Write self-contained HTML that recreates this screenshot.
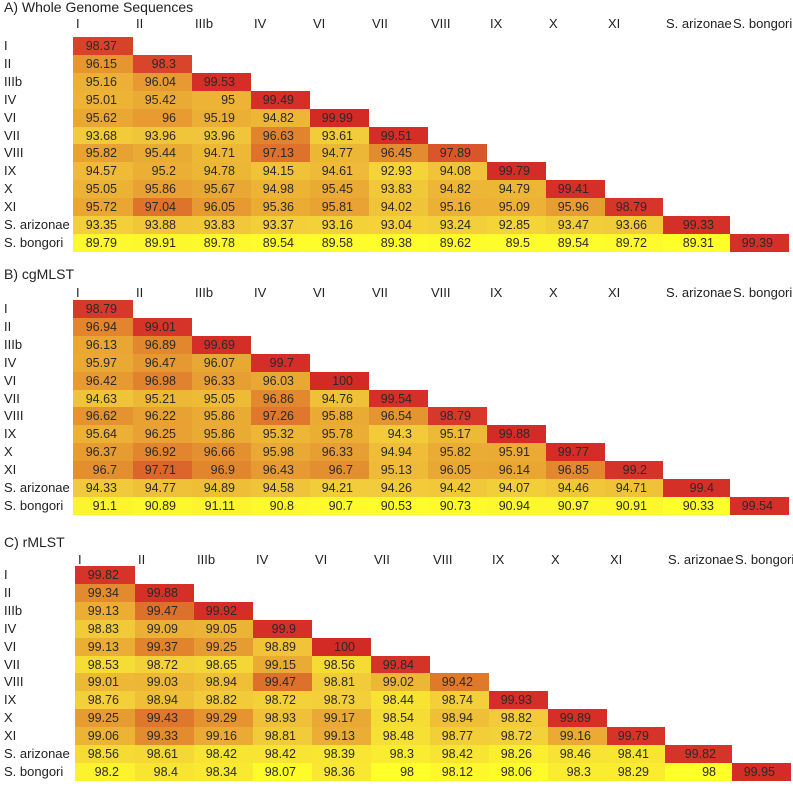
<!DOCTYPE html>
<html><head><meta charset="utf-8">
<style>
body{margin:0;background:#fff;width:793px;height:787px;overflow:hidden;font-family:"Liberation Sans",sans-serif;}
#root{position:relative;width:793px;height:787px;}
.t{position:absolute;font-size:13px;color:#222;white-space:nowrap;line-height:14px;}
.tt{font-size:14px;}
.c{position:absolute;font-size:12.5px;color:#2a2a2a;text-align:right;box-sizing:border-box;padding-right:16px;line-height:18px;}
</style></head><body>
<div id="root"></div>
<script>
const labels=["I","II","IIIb","IV","VI","VII","VIII","IX","X","XI","S. arizonae","S. bongori"];
const panelTitles=["A) Whole Genome Sequences","B) cgMLST","C) rMLST"];
const wgsValues=[
[98.37],
[96.15,98.3],
[95.16,96.04,99.53],
[95.01,95.42,95,99.49],
[95.62,96,95.19,94.82,99.99],
[93.68,93.96,93.96,96.63,93.61,99.51],
[95.82,95.44,94.71,97.13,94.77,96.45,97.89],
[94.57,95.2,94.78,94.15,94.61,92.93,94.08,99.79],
[95.05,95.86,95.67,94.98,95.45,93.83,94.82,94.79,99.41],
[95.72,97.04,96.05,95.36,95.81,94.02,95.16,95.09,95.96,98.79],
[93.35,93.88,93.83,93.37,93.16,93.04,93.24,92.85,93.47,93.66,99.33],
[89.79,89.91,89.78,89.54,89.58,89.38,89.62,89.5,89.54,89.72,89.31,99.39]];
const cgValues=[
[98.79],
[96.94,99.01],
[96.13,96.89,99.69],
[95.97,96.47,96.07,99.7],
[96.42,96.98,96.33,96.03,100],
[94.63,95.21,95.05,96.86,94.76,99.54],
[96.62,96.22,95.86,97.26,95.88,96.54,98.79],
[95.64,96.25,95.86,95.32,95.78,94.3,95.17,99.88],
[96.37,96.92,96.66,95.98,96.33,94.94,95.82,95.91,99.77],
[96.7,97.71,96.9,96.43,96.7,95.13,96.05,96.14,96.85,99.2],
[94.33,94.77,94.89,94.58,94.21,94.26,94.42,94.07,94.46,94.71,99.4],
[91.1,90.89,91.11,90.8,90.7,90.53,90.73,90.94,90.97,90.91,90.33,99.54]];
const rValues=[
[99.82],
[99.34,99.88],
[99.13,99.47,99.92],
[98.83,99.09,99.05,99.9],
[99.13,99.37,99.25,98.89,100],
[98.53,98.72,98.65,99.15,98.56,99.84],
[99.01,99.03,98.94,99.47,98.81,99.02,99.42],
[98.76,98.94,98.82,98.72,98.73,98.44,98.74,99.93],
[99.25,99.43,99.29,98.93,99.17,98.54,98.94,98.82,99.89],
[99.06,99.33,99.16,98.81,99.13,98.48,98.77,98.72,99.16,99.79],
[98.56,98.61,98.42,98.42,98.39,98.3,98.42,98.26,98.46,98.41,99.82],
[98.2,98.4,98.34,98.07,98.36,98,98.12,98.06,98.3,98.29,98,99.95]];
const panels=[wgsValues,cgValues,rValues];
const layout=[{title:0,head:17,top:37,x0:73},{title:267,head:286,top:300,x0:73},{title:535,head:553,top:566,x0:75}];
const colX=[0,60,119,178,237,296,355,414,473,532,590,657,716];
const rowH=17.9;
const stops=[[0,[255,255,42]],[0.4,[242,204,58]],[0.6,[233,166,51]],[0.75,[220,106,42]],[0.88,[214,54,42]],[1,[212,42,38]]];
function colorFor(t){t=Math.max(0,Math.min(1,t));for(let i=1;i<stops.length;i++){if(t<=stops[i][0]){const a=stops[i-1],b=stops[i];const f=(t-a[0])/(b[0]-a[0]);const c=a[1].map((v,k)=>Math.round(v+(b[1][k]-v)*f));return `rgb(${c})`;}}return 'rgb(212,42,38)';}
const root=document.getElementById('root');
panels.forEach((vals,p)=>{
  const L=layout[p];
  const all=vals.flat();const mn=Math.min(...all),mx=Math.max(...all);
  const tt=document.createElement('div');tt.className='t tt';tt.style.left='4px';tt.style.top=L.title+'px';tt.textContent=panelTitles[p];
  
  
  root.appendChild(tt);
  labels.forEach((lb,i)=>{
    const h=document.createElement('div');h.className='t';h.style.left=(L.x0+colX[i]+3)+'px';h.style.top=L.head+'px';h.textContent=lb;
    
    
    root.appendChild(h);
    const r=document.createElement('div');r.className='t';r.style.left='4px';r.style.top=(L.top+i*rowH+2)+'px';r.textContent=lb;
    
    
    root.appendChild(r);
  });
  vals.forEach((row,i)=>{row.forEach((v,j)=>{
    const c=document.createElement('div');c.className='c';
    c.style.left=(L.x0+colX[j])+'px';c.style.width=(colX[j+1]-colX[j])+'px';
    c.style.top=(L.top+i*rowH)+'px';c.style.height=(rowH+0.5)+'px';
    c.style.background=colorFor((v-mn)/(mx-mn));c.textContent=v;
    
    
    root.appendChild(c);
  });});
});
</script>
</body></html>
